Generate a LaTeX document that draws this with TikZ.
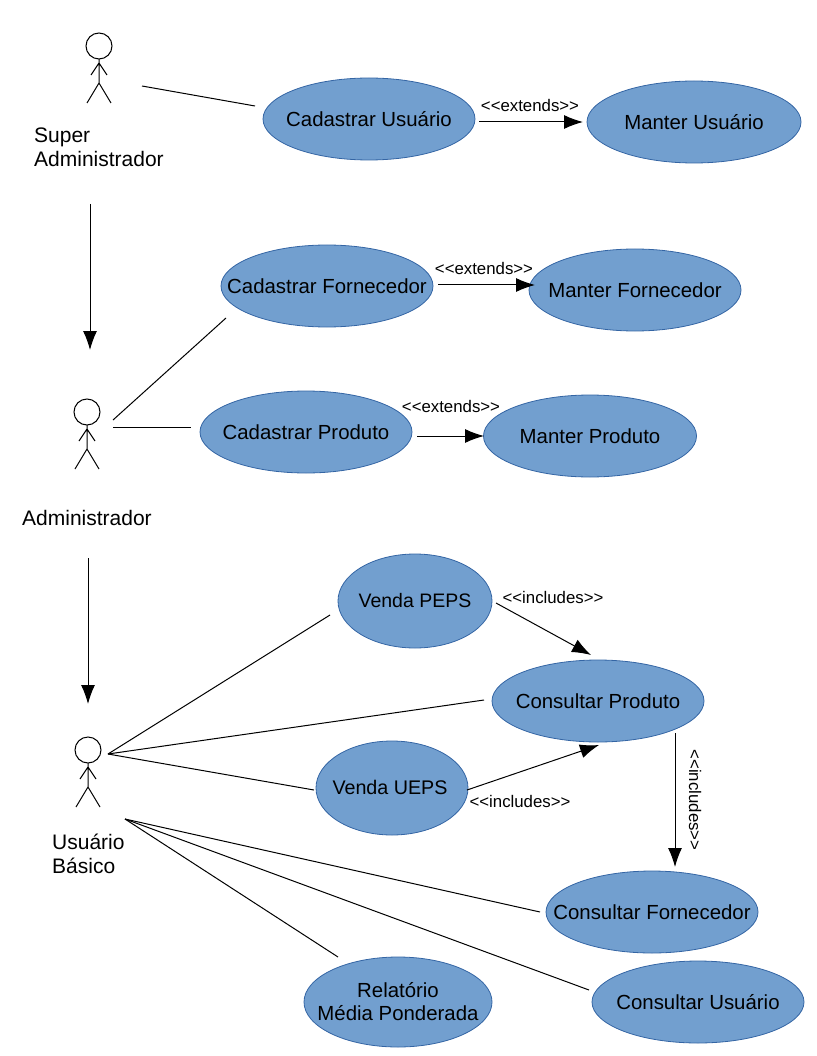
\documentclass[tikz,border=0pt]{standalone}
\usepackage{fontspec}
\setmainfont{Liberation Sans}
\usetikzlibrary{arrows.meta,shapes.geometric}
\definecolor{ucfill}{HTML}{729FCF}
\definecolor{ucline}{HTML}{3465A4}
\newcommand{\zw}[1]{\makebox[0pt][c]{\raisebox{0.7pt}{#1}}}
\tikzset{
  x=1pt,y=-1pt,
  uc/.style={ellipse,draw=ucline,fill=ucfill,line width=0.8pt,inner sep=0pt,minimum width=2*#1,align=center,font=\fontsize{20.4}{23}\selectfont},
  uc/.default=106,
  assoc/.style={draw=black,line width=1pt},
  dep/.style={draw=black,line width=1pt,-{Latex[length=19pt,width=14pt]},shorten >=0pt},
  lbl/.style={font=\fontsize{16.8}{20}\selectfont,inner sep=0pt},
  actlbl/.style={font=\fontsize{21}{24}\selectfont,align=left,inner sep=0pt},
  head/.style={circle,draw=black,line width=1pt,minimum size=26pt,inner sep=0pt},
  pics/stick/.style={code={
    \draw[line width=1pt,line join=round] (0,13) -- (0,37) (-12,57) -- (0,37) -- (12,57) (-8,29) -- (0,17) -- (8,29);
  }}
}
\begin{document}
\begin{tikzpicture}
\useasboundingbox (0,0) rectangle (816,1056);
% use cases
\node[uc,minimum height=82pt] (cu) at (369,119) {\zw{Cadastrar Usuário}};
\node[uc=107,minimum height=82pt] (mu) at (694,122) {\zw{Manter Usuário}};
\node[uc,minimum height=82pt] (cf) at (327,286) {\zw{Cadastrar Fornecedor}};
\node[uc,minimum height=82pt] (mf) at (635,290) {\zw{Manter Fornecedor}};
\node[uc,minimum height=82pt] (cp) at (306,432) {\zw{Cadastrar Produto}};
\node[uc=106.5,minimum height=82pt] (mp) at (590,436) {\zw{Manter Produto}};
\node[uc=77,minimum height=94pt,font=\fontsize{19.5}{23}\selectfont] (vp) at (415,601) {\zw{Venda PEPS}};
\node[uc,minimum height=82pt] (kp) at (598,701) {\zw{Consultar Produto}};
\node[uc=76,minimum height=94pt,font=\fontsize{19.7}{23}\selectfont] (vu) at (392,788) {\zw{\hspace{-4pt}Venda UEPS}};
\node[uc,minimum height=82pt] (kf) at (652,912) {\zw{Consultar Fornecedor}};
\node[uc,minimum height=82pt] (ku) at (698,1002) {\zw{Consultar Usuário}};
\node[uc=94,minimum height=90pt] (rm) at (398,1002) {\zw{Relatório}\\\zw{Média Ponderada}};
% actors
\node[head] (sa) at (99,46) {};
\pic at (99,46) {stick};
\node[head] (ad) at (87,412) {};
\pic at (87,412) {stick};
\node[head] (ub) at (88,750) {};
\pic at (88,750) {stick};
\node[actlbl,anchor=north west] (lsa) at (34,127.5) {Super\\Administrador};
\node[actlbl,anchor=north west] (lad) at (22,510) {Administrador};
\node[actlbl,anchor=north west] (lub) at (52,834) {Usuário\\Básico};
% free connector ends
\coordinate (a1) at (142,86);   \coordinate (a2) at (255,106);
\coordinate (b1) at (479,122);  \coordinate (b2) at (583,122);
\coordinate (c1) at (90,204);   \coordinate (c2) at (90,350);
\coordinate (d1) at (113,420);  \coordinate (d2) at (226,318);
\coordinate (e1) at (113,427);  \coordinate (e2) at (191,427);
\coordinate (f1) at (438,285);  \coordinate (f2) at (535,285);
\coordinate (g1) at (417,436);  \coordinate (g2) at (484,436);
\coordinate (h1) at (88,558);   \coordinate (h2) at (88,704);
\coordinate (i1) at (108,754);
\coordinate (i2) at (330,615);  \coordinate (i3) at (484,700);  \coordinate (i4) at (314,790);
\coordinate (j1) at (125,819);
\coordinate (j2) at (540,912);  \coordinate (j3) at (589,990);  \coordinate (j4) at (338,957);
\coordinate (k1) at (496,603);  \coordinate (k2) at (591,655);
\coordinate (l1) at (467,790);  \coordinate (l2) at (599,745);
\coordinate (m1) at (675,733);  \coordinate (m2) at (675,867);
% connectors
\draw[assoc] (a1) -- (a2);
\draw[assoc] (d1) -- (d2);
\draw[assoc] (e1) -- (e2);
\draw[assoc] (i1) -- (i2);
\draw[assoc] (i1) -- (i3);
\draw[assoc] (i1) -- (i4);
\draw[assoc] (j1) -- (j2);
\draw[assoc] (j1) -- (j3);
\draw[assoc] (j1) -- (j4);
\draw[dep] (b1) -- (b2);
\draw[dep] (c1) -- (c2);
\draw[dep] (f1) -- (f2);
\draw[dep] (g1) -- (g2);
\draw[dep] (h1) -- (h2);
\draw[dep] (k1) -- (k2);
\draw[dep] (l1) -- (l2);
\draw[dep] (m1) -- (m2);
% labels
\node[lbl] (x1) at (530,105) {<{}<extends>{}>};
\node[lbl] (x2) at (484,268) {<{}<extends>{}>};
\node[lbl] (x3) at (451,406) {<{}<extends>{}>};
\node[lbl] (x4) at (553,597) {<{}<includes>{}>};
\node[lbl] (x5) at (520,801) {<{}<includes>{}>};
\node[lbl,rotate=-90] (x6) at (695,800) {<{}<includes>{}>};
\end{tikzpicture}
\end{document}
